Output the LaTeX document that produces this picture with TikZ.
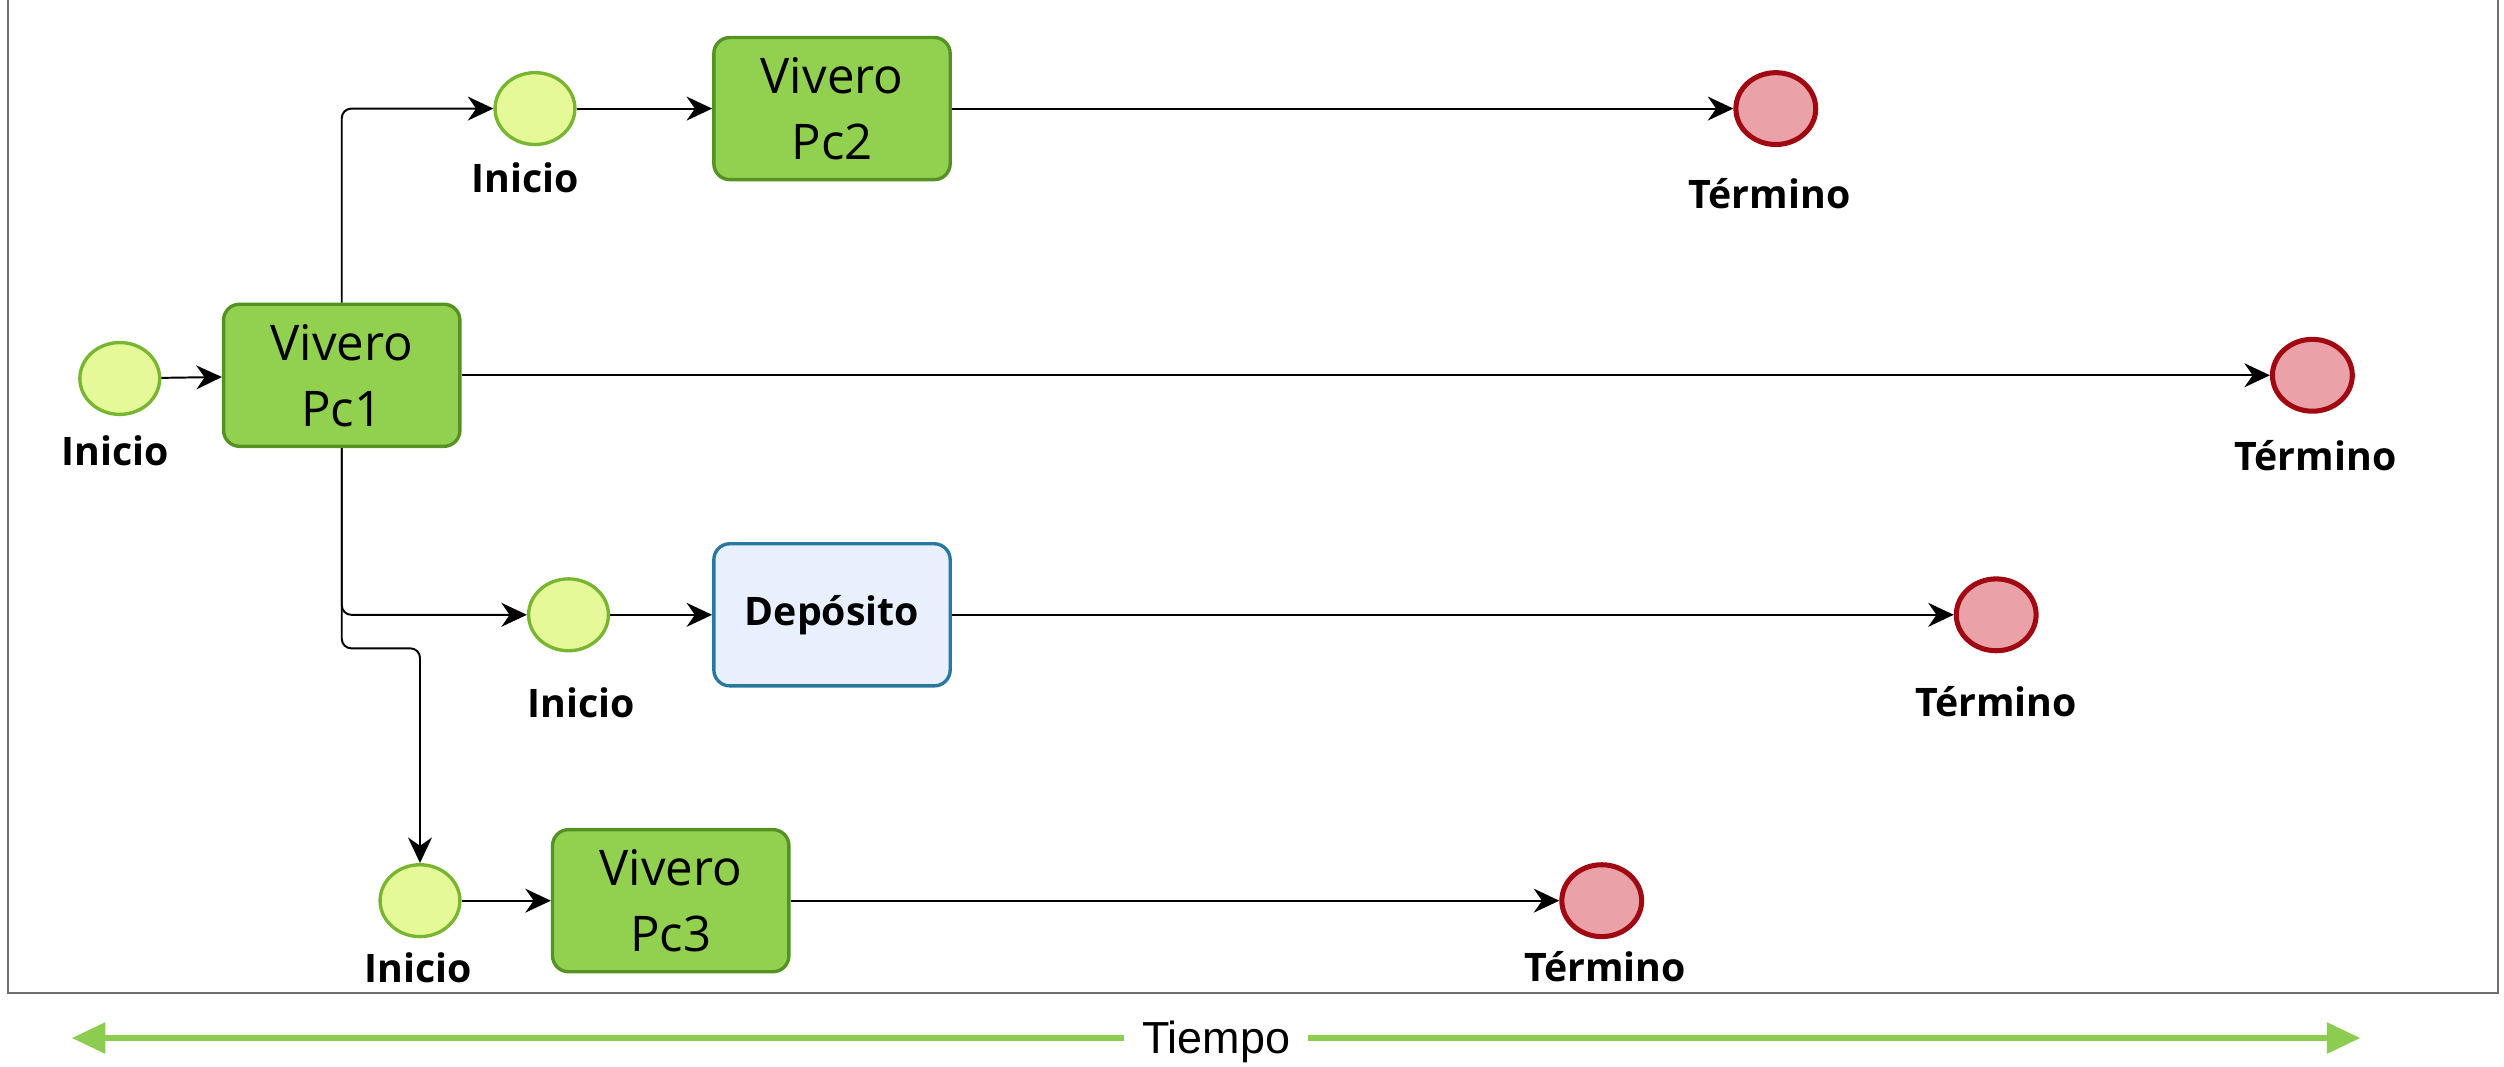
\documentclass[tikz,border=0pt]{standalone}
\usepackage{xcolor}
\usepackage{fontspec}
\setmainfont{Open Sans}
\newfontfamily\tiempofont{Liberation Sans}
\usepackage{tikz}
\usetikzlibrary{shapes,positioning,arrows.meta}

\definecolor{iniFill}{RGB}{229,249,152}
\definecolor{iniLine}{RGB}{120,182,50}
\definecolor{vivFill}{RGB}{146,208,80}
\definecolor{vivLine}{RGB}{84,146,36}
\definecolor{depFill}{RGB}{232,240,253}
\definecolor{depLine}{RGB}{40,120,160}
\definecolor{terFill}{RGB}{234,162,168}
\definecolor{terLine}{RGB}{160,8,18}
\definecolor{tiempoCol}{RGB}{140,204,80}
\definecolor{frameCol}{RGB}{110,110,110}

\begin{document}
\begin{tikzpicture}[
    inicio/.style={ellipse, draw=iniLine, fill=iniFill, line width=1.2pt,
        minimum width=1cm, minimum height=0.9cm, inner sep=0pt},
    termino/.style={ellipse, draw=terLine, fill=terFill, line width=1.8pt,
        minimum width=1cm, minimum height=0.9cm, inner sep=0pt},
    vivero/.style={rectangle, rounded corners=0.2cm, draw=vivLine, fill=vivFill,
        line width=1.2pt, minimum width=2.96cm, minimum height=1.78cm, align=center,
        font=\fontsize{17.5}{23.5}\selectfont},
    deposito/.style={vivero, draw=depLine, fill=depFill,
        font=\fontsize{14}{17}\selectfont\bfseries},
    lbl/.style={anchor=base, font=\fontsize{14}{17}\selectfont\bfseries},
    flow/.style={-{Stealth[length=0.32cm,width=0.3cm]}, line width=0.7pt,
        rounded corners=0.12cm},
    tiempo/.style={-{Triangle[length=0.42cm,width=0.38cm]}, line width=1.8pt,
        draw=tiempoCol}
]
    \useasboundingbox (0,0) rectangle (31.36,13.36);

    % Frame
    \draw[frameCol, line width=0.8pt] (0.1,13.36) -- (0.1,0.92) -- (31.28,0.92) -- (31.28,13.36);

    % Start and first nursery
    \node[inicio] (ini0) at (1.50,8.62) {};
    \node[vivero] (pc1) at (4.28,8.66) {Vivero\\Pc1};
    \node[termino] (ter0) at (28.96,8.66) {};

    % Upper branch
    \node[inicio] (ini1) at (6.70,12.00) {};
    \node[vivero] (pc2) at (10.42,12.00) {Vivero\\Pc2};
    \node[termino] (ter1) at (22.24,12.00) {};

    % Depot branch
    \node[inicio] (ini2) at (7.12,5.66) {};
    \node[deposito] (dep) at (10.42,5.66) {Depósito};
    \node[termino] (ter2) at (25.00,5.66) {};

    % Lower branch
    \node[inicio] (ini3) at (5.26,2.08) {};
    \node[vivero] (pc3) at (8.40,2.08) {Vivero\\Pc3};
    \node[termino] (ter3) at (20.06,2.08) {};
    \coordinate (jog) at (5.26,5.24);

    % Labels
    \node[lbl] (ini0-l) at (1.44,7.53) {Inicio};
    \node[lbl] (ini1-l) at (6.58,10.95) {Inicio};
    \node[lbl] (ini2-l) at (7.28,4.37) {Inicio};
    \node[lbl] (ini3-l) at (5.24,1.05) {Inicio};
    \node[lbl] (ter1-l) at (22.16,10.75) {Término};
    \node[lbl] (ter0-l) at (29.00,7.47) {Término};
    \node[lbl] (ter2-l) at (25.00,4.39) {Término};
    \node[lbl] (ter3-l) at (20.10,1.07) {Término};

    % Flows
    \draw[flow] (ini0) -- (pc1);
    \draw[flow] (pc1) -- (ter0);
    \draw[flow] (pc1.north) |- (ini1);
    \draw[flow] (ini1) -- (pc2);
    \draw[flow] (pc2) -- (ter1);
    \draw[flow] (pc1.south) |- (ini2);
    \draw[flow] (ini2) -- (dep);
    \draw[flow] (dep) -- (ter2);
    \draw[flow] (pc1.south) |- (jog) -- (ini3);
    \draw[flow] (ini3) -- (pc3);
    \draw[flow] (pc3) -- (ter3);

    % Time axis
    \node[font=\tiempofont\fontsize{16}{19}\selectfont, anchor=base] (tiempo) at (15.23,0.17) {Tiempo};
    \coordinate (tL) at (0.90,0.36);
    \coordinate (tR) at (29.56,0.36);
    \draw[tiempo] (tiempo.west |- tL) ++(-0.1,0) -- (tL);
    \draw[tiempo] (tiempo.east |- tR) ++(0.1,0) -- (tR);
\end{tikzpicture}
\end{document}
